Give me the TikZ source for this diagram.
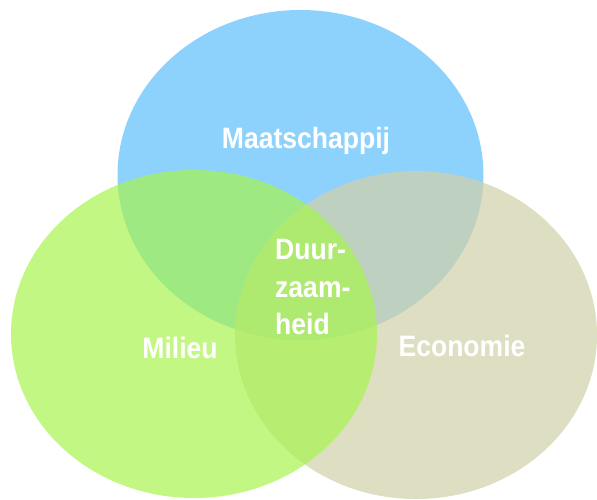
\documentclass[tikz,border=0pt]{standalone}
\usepackage{fontspec}
\newfontfamily\vennfont[FakeStretch=0.9]{Liberation Sans}
\usetikzlibrary{shapes.geometric}
\definecolor{maatblue}{RGB}{141,210,253}
\definecolor{milgreen}{RGB}{168,244,79}
\definecolor{ecokhaki}{RGB}{209,209,170}

\begin{document}
\begin{tikzpicture}[x=1pt,y=-1pt,
    set/.style={ellipse, inner sep=0pt, minimum width=366pt, minimum height=330pt},
    lbl/.style={text=white, inner sep=0pt, font=\vennfont\bfseries\fontsize{29.5}{37.5}\selectfont}]
  \useasboundingbox (0,0) rectangle (597,499);

  \node[set, fill=maatblue]                         (maat) at (300.5,175) {};
  \node[set, fill=ecokhaki, fill opacity=0.72,
        minimum width=362pt, minimum height=328pt] (eco)  at (416,335)   {};
  \node[set, fill=milgreen, fill opacity=0.7,
        minimum height=328pt]                       (mil)  at (194,334)   {};

  \node[lbl, anchor=base]             (maatlbl) at (306,148) {Maatschappij};
  \node[lbl, anchor=base]             (millbl)  at (180,358) {Milieu};
  \node[lbl, anchor=base]             (ecolbl)  at (462,356) {Economie};
  \node[lbl, anchor=north west, align=left] (duur) at (275,239) {Duur-\\zaam-\\heid};
\end{tikzpicture}
\end{document}
